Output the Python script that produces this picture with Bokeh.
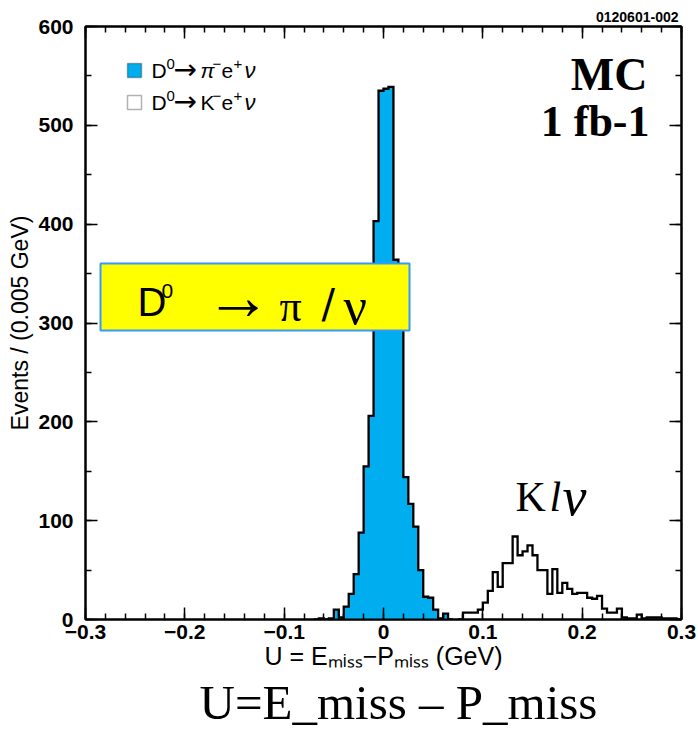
import numpy as np
from bokeh.plotting import figure
from bokeh.models import (Range1d, FixedTicker, LinearAxis, Label, BoxAnnotation,
                          CustomJSTickFormatter, Title)
from bokeh.embed import file_html
from bokeh.resources import INLINE

# ---------------- data ----------------
bin_width = 0.005
pi_first_edge = -0.07
pi_counts = [0, 1, 0, 1, 10, 2, 13, 26, 46, 88, 155, 206, 403,
             535, 537, 539, 364, 320, 144, 117, 94, 50, 23, 22, 10, 1, 6, 0]
k_first_edge = 0.075
k_counts = [0, 7, 7, 7, 10, 17, 29, 48, 33, 57, 57, 84, 65, 69, 75, 65, 50, 50,
            26, 51, 27, 37, 31, 26, 27, 27, 22, 21, 24, 11, 7, 7, 11, 2, 1, 1,
            5, 1, 2, 2, 2, 1, 1, 1, 0]
x_major_ticks = [-0.3, -0.2, -0.1, 0.0, 0.1, 0.2, 0.3]
x_minor_ticks = [round(-0.3 + 0.02 * i, 2) for i in range(31)]
y_major_ticks = [0, 100, 200, 300, 400, 500, 600]
y_minor_ticks = [50 * i for i in range(13)]
legend_particles = ["π", "K"]

PI_BLUE = "#00AEEF"

# ---------------- geometry helpers (annotation placement) ----------------
FL, FR, FT, FB = 85, 681, 26, 619
XMIN, XMAX, YMIN, YMAX = -0.3, 0.3, 0, 600


def px_x(X):
    return XMIN + (X - FL) * (XMAX - XMIN) / (FR - FL)


def px_y(Y):
    return YMIN + (FB - Y) * (YMAX - YMIN) / (FB - FT)


def outline(first, counts):
    edges = first + bin_width * np.arange(len(counts) + 1)
    xs = np.repeat(edges, 2)
    ys = np.concatenate([[0], np.repeat(np.asarray(counts, float), 2), [0]])
    return xs, ys


p = figure(width=698, height=729, x_range=Range1d(XMIN, XMAX), y_range=Range1d(YMIN, YMAX),
           output_backend="svg", toolbar_location=None,
           min_border_left=FL, min_border_right=698 - FR, min_border_top=FT,
           min_border_bottom=729 - FB)
p.xgrid.visible = False
p.ygrid.visible = False
p.outline_line_color = "black"
p.outline_line_width = 2
p.background_fill_color = "white"
p.border_fill_color = "white"

# id label as title (above, right)
p.title.text = "0120601-002"
p.title.align = "right"
p.title.text_font = "Liberation Sans"
p.title.text_font_size = "14px"
p.title.text_font_style = "bold"
p.title.text_color = "black"
p.title.standoff = 10
p.title.offset = 3

# histograms
xs, ys = outline(pi_first_edge, pi_counts)
p.patch(xs, ys, fill_color=PI_BLUE, line_color=None)
p.line(xs, ys, line_color="black", line_width=2.3, line_join="miter")
xs, ys = outline(k_first_edge, k_counts)
p.line(xs, ys, line_color="black", line_width=2.3, line_join="miter")

# axes
xfmt = CustomJSTickFormatter(code="""
if (Math.abs(tick) < 1e-9) return '0';
return (tick < 0 ? '\u2212' : '') + Math.abs(tick).toFixed(1);
""")
blank = CustomJSTickFormatter(code="return '';")


def style_axis(ax):
    ax.axis_line_color = "black"
    ax.axis_line_width = 2
    ax.major_tick_in = 12
    ax.major_tick_out = 0
    ax.minor_tick_in = 6
    ax.minor_tick_out = 0
    ax.major_tick_line_width = 1.5
    ax.minor_tick_line_width = 1.5
    ax.major_tick_line_color = "black"
    ax.minor_tick_line_color = "black"
    ax.major_label_text_font = "Liberation Sans"
    ax.major_label_text_font_style = "bold"
    ax.major_label_text_font_size = "21px"
    ax.major_label_text_color = "black"
    ax.axis_label_text_color = "black"


xax = p.xaxis[0]
xax.ticker = FixedTicker(ticks=x_major_ticks, minor_ticks=x_minor_ticks)
xax.formatter = xfmt
style_axis(xax)
xax.major_label_standoff = 5
xax.axis_label = "U = E\u2098\u1d62\u209b\u209b\u2212P\u2098\u1d62\u209b\u209b (GeV)"
xax.axis_label_text_font = "Liberation Sans"
xax.axis_label_text_font_style = "normal"
xax.axis_label_text_font_size = "25px"
xax.axis_label_standoff = 0

yax = p.yaxis[0]
yax.ticker = FixedTicker(ticks=y_major_ticks, minor_ticks=y_minor_ticks)
style_axis(yax)
yax.major_label_standoff = 12
yax.axis_label = "Events / (0.005 GeV)"
yax.axis_label_text_font = "Liberation Sans"
yax.axis_label_text_font_style = "normal"
yax.axis_label_text_font_size = "23px"
yax.axis_label_standoff = 2

top_ax = LinearAxis(ticker=FixedTicker(ticks=x_major_ticks, minor_ticks=x_minor_ticks),
                    formatter=blank)
style_axis(top_ax)
top_ax.major_label_text_font_size = "0px"
top_ax.major_label_standoff = 0
p.add_layout(top_ax, "above")
right_ax = LinearAxis(ticker=FixedTicker(ticks=y_major_ticks, minor_ticks=y_minor_ticks),
                      formatter=blank)
style_axis(right_ax)
right_ax.major_label_text_font_size = "0px"
right_ax.major_label_standoff = 0
p.add_layout(right_ax, "right")

# caption below the axis
p.add_layout(Title(text="U=E_miss \u2013 P_miss", align="left", text_font="Liberation Serif",
                   text_font_size="49px", text_font_style="normal", text_color="black",
                   standoff=0, offset=114), "below")


def add_text(X, Y, text, font="Liberation Sans", size=20, style="normal",
             align="left", color="black"):
    # Y is the vertical middle of the text, in canvas pixels
    p.add_layout(Label(x=px_x(X), y=px_y(Y), text=text, text_font=font,
                       text_font_size=f"{size}px", text_font_style=style,
                       text_align=align, text_baseline="middle", text_color=color))


# legend (manual)
for Yc, particle, fill in [(70, legend_particles[0], PI_BLUE), (102, legend_particles[1], "white")]:
    p.add_layout(BoxAnnotation(left=px_x(127), right=px_x(141), top=px_y(Yc - 7),
                               bottom=px_y(Yc + 7), fill_color=fill, fill_alpha=1.0,
                               line_color="black", line_width=1.5))
    add_text(151, Yc, "D", size=21)
    add_text(166, Yc - 7, "0", size=15)
    add_text(173, Yc - 1, "\u2192", font="DejaVu Sans", size=28)
    add_text(200, Yc, particle, size=21, style="italic" if particle == "π" else "normal")
    add_text(212, Yc - 7, "\u2212", size=15)
    add_text(221, Yc, "e", size=21)
    add_text(233, Yc - 7, "+", size=15)
    add_text(244, Yc, "ν", size=22, style="italic")

# MC, 1 fb-1
add_text(647, 74, "MC", font="Liberation Serif", size=46, style="bold", align="right")
add_text(649, 121, "1 fb-1", font="Liberation Serif", size=44, style="bold", align="right")

# K l nu
add_text(515, 496, "K", font="Liberation Serif", size=42)
add_text(549, 496, "l", font="Liberation Serif", size=42, style="italic")
add_text(562, 496, "\u03bd", font="Liberation Serif", size=54, style="italic")

# yellow box
p.add_layout(BoxAnnotation(left=px_x(100), right=px_x(409), top=px_y(263), bottom=px_y(330),
                           fill_color="#FFFF00", fill_alpha=1.0,
                           line_color="#3399FF", line_width=2, line_alpha=1.0))
add_text(137, 301, "D", font="Liberation Sans", size=40)
add_text(161, 290, "0", font="Liberation Sans", size=21)
add_text(205, 296, "\u2192", font="Liberation Serif", size=66)
add_text(279, 306, "\u03c0", font="Liberation Serif", size=44)
add_text(321, 303, "/", font="DejaVu Sans", size=40)
add_text(343, 306, "\u03bd", font="Liberation Serif", size=52)

open("out.html", "w").write(file_html(p, INLINE))
